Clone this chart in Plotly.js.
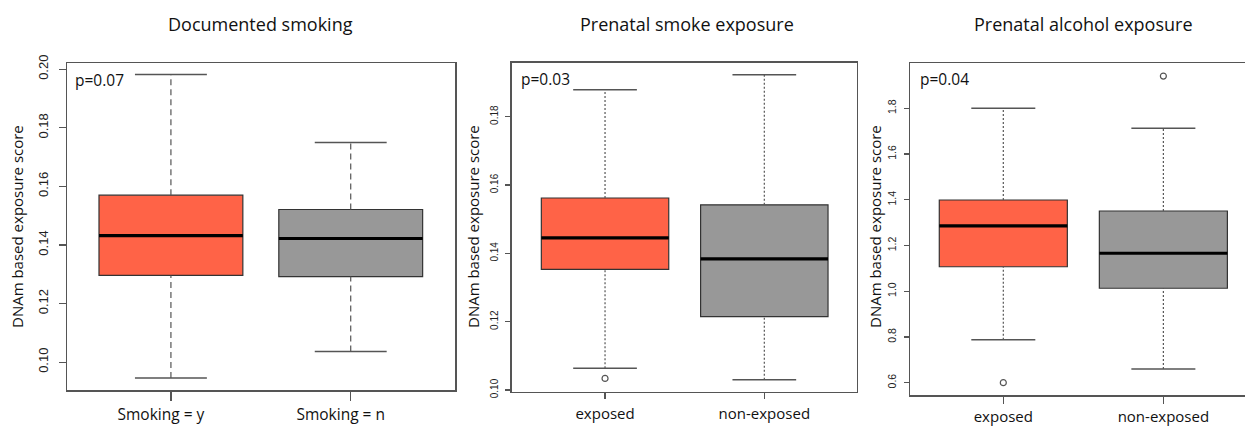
<!DOCTYPE html>
<html>
<head>
<meta charset="utf-8">
<script src="https://cdn.plot.ly/plotly-3.0.1.min.js"></script>
<style>html,body{margin:0;padding:0;background:#fff;}#chart{width:1245px;height:427px;}</style>
</head>
<body>
<div id="chart"></div>
<script>
// ---- data ----
const panelTitles = ["Documented smoking", "Prenatal smoke exposure", "Prenatal alcohol exposure"];
const pValues = ["p=0.07", "p=0.03", "p=0.04"];
const yTitle = "DNAm based exposure score";

const cats1 = ["Smoking = y", "Smoking = n"];
const lower1 = [0.0946, 0.1036];
const q1_1 = [0.1296, 0.1292];
const med1 = [0.1432, 0.1422];
const q3_1 = [0.1570, 0.1521];
const upper1 = [0.1982, 0.1750];
const out1 = [[], []];
const yticks1 = [0.10, 0.12, 0.14, 0.16, 0.18, 0.20];
const yticktext1 = ["0.10", "0.12", "0.14", "0.16", "0.18", "0.20"];

const cats2 = ["exposed", "non-exposed"];
const lower2 = [0.1064, 0.1030];
const q1_2 = [0.1353, 0.1215];
const med2 = [0.1445, 0.1384];
const q3_2 = [0.1562, 0.1542];
const upper2 = [0.1879, 0.1923];
const out2 = [[0.1034], []];
const yticks2 = [0.10, 0.12, 0.14, 0.16, 0.18];
const yticktext2 = ["0.10", "0.12", "0.14", "0.16", "0.18"];

const cats3 = ["exposed", "non-exposed"];
const lower3 = [0.788, 0.660];
const q1_3 = [1.107, 1.013];
const med3 = [1.286, 1.166];
const q3_3 = [1.399, 1.351];
const upper3 = [1.800, 1.7125];
const out3 = [[0.60], [1.941]];
const yticks3 = [0.6, 0.8, 1.0, 1.2, 1.4, 1.6, 1.8];
const yticktext3 = ["0.6", "0.8", "1.0", "1.2", "1.4", "1.6", "1.8"];

const boxColors = ["#FF6347", "#989898"];

// ---- build ----
const W = 1245, H = 427;
const panels = [
  {cats: cats1, lo: lower1, q1: q1_1, med: med1, q3: q3_1, hi: upper1, out: out1, dash: "6px,4px",
   xd: [67/W, 455/W], yd: [1-390/H, 1-63/H], xr: [0.422, 2.58], yr: [0.0905, 0.2021],
   yt: yticks1, ytt: yticktext1, tickfs: 13, yticklen: 7, xticklen: 9, xshift: -10, mirrorY: true,
   xfs: 15.5, xstand: 1, ystand: 5},
  {cats: cats2, lo: lower2, q1: q1_2, med: med2, q3: q3_2, hi: upper2, out: out2, dash: "2px,2px",
   xd: [511.7/W, 856.7/W], yd: [1-391.7/H, 1-62.7/H], xr: [0.414, 2.58], yr: [0.0995, 0.1958],
   yt: yticks2, ytt: yticktext2, tickfs: 10, yticklen: 5, xticklen: 6, xshift: 0, mirrorY: true,
   xfs: 15, xstand: 2, ystand: 3},
  {cats: cats3, lo: lower3, q1: q1_3, med: med3, q3: q3_3, hi: upper3, out: out3, dash: "2px,2px",
   xd: [910/W, 1], yd: [1-395/H, 1-63.3/H], xr: [0.417, 2.51], yr: [0.546, 1.997],
   yt: yticks3, ytt: yticktext3, tickfs: 10.5, yticklen: 5, xticklen: 7, xshift: 0, mirrorY: false,
   xfs: 15, xstand: 0, ystand: 3}
];

const traces = [];
const layout = {
  width: W, height: H, margin: {l: 0, r: 0, t: 0, b: 0},
  paper_bgcolor: "#fff", plot_bgcolor: "#fff", showlegend: false, hovermode: false,
  annotations: []
};

const lineCol = "#555555";
panels.forEach((p, i) => {
  const n = i + 1;
  const xa = n === 1 ? "x" : "x" + n;
  const ya = n === 1 ? "y" : "y" + n;
  for (let g = 0; g < 2; g++) {
    const c = g + 1;
    // box body
    traces.push({
      type: "box", x: [c], q1: [p.q1[g]], median: [p.med[g]], q3: [p.q3[g]],
      lowerfence: [p.q1[g]], upperfence: [p.q3[g]], width: 0.8, whiskerwidth: 0,
      fillcolor: boxColors[g], line: {color: "#333333", width: 1.2},
      boxpoints: false, xaxis: xa, yaxis: ya, hoverinfo: "skip"
    });
    // whiskers (dashed)
    traces.push({
      type: "scatter", mode: "lines", x: [c, c, null, c, c],
      y: [p.lo[g], p.q1[g], null, p.q3[g], p.hi[g]],
      line: {color: lineCol, width: 1.2, dash: p.dash}, xaxis: xa, yaxis: ya, hoverinfo: "skip"
    });
    // staples
    traces.push({
      type: "scatter", mode: "lines", x: [c-0.2, c+0.2, null, c-0.2, c+0.2],
      y: [p.lo[g], p.lo[g], null, p.hi[g], p.hi[g]],
      line: {color: lineCol, width: 1.5}, xaxis: xa, yaxis: ya, hoverinfo: "skip"
    });
    // median
    traces.push({
      type: "scatter", mode: "lines", x: [c-0.4, c+0.4], y: [p.med[g], p.med[g]],
      line: {color: "#000000", width: 3.2}, xaxis: xa, yaxis: ya, hoverinfo: "skip"
    });
    // outliers
    if (p.out[g].length) {
      traces.push({
        type: "scatter", mode: "markers", x: p.out[g].map(() => c), y: p.out[g],
        marker: {symbol: "circle-open", size: 6, color: lineCol, line: {width: 1.2}},
        xaxis: xa, yaxis: ya, hoverinfo: "skip"
      });
    }
  }
  layout["xaxis" + (n === 1 ? "" : n)] = {
    domain: p.xd, range: p.xr, anchor: ya, tickvals: [1, 2], ticktext: p.cats,
    ticks: "outside", ticklen: p.xticklen, tickcolor: lineCol, tickwidth: 1.3,
    showline: true, mirror: true, linecolor: lineCol, linewidth: 1.5,
    showgrid: false, zeroline: false, ticklabelshift: p.xshift, ticklabelstandoff: p.xstand,
    tickfont: {family: "Open Sans", size: p.xfs, color: "#111"}
  };
  layout["yaxis" + (n === 1 ? "" : n)] = {
    domain: p.yd, range: p.yr, anchor: xa, tickvals: p.yt, ticktext: p.ytt, tickangle: -90,
    ticks: "outside", ticklen: p.yticklen, tickcolor: lineCol, tickwidth: 1.3,
    showline: true, mirror: p.mirrorY, linecolor: lineCol, linewidth: 1.5,
    showgrid: false, zeroline: false, ticklabelstandoff: p.ystand,
    tickfont: {family: "Liberation Sans", size: p.tickfs, color: "#222"}
  };
});

const titleX = [260/W, 687/W, 1083/W];
const yTitleX = [17/W, 473/W, 875/W];
const pX = [73/W, 519/W, 918/W];
const pY = [1-80/H, 1-79/H, 1-79/H];
for (let i = 0; i < 3; i++) {
  layout.annotations.push({
    xref: "paper", yref: "paper", x: titleX[i], y: 1-24/H, text: panelTitles[i],
    showarrow: false, xanchor: "center", yanchor: "middle",
    font: {family: "Open Sans", size: 18, color: "#111"}
  });
  layout.annotations.push({
    xref: "paper", yref: "paper", x: yTitleX[i], y: 1-227/H, text: yTitle, textangle: -90,
    showarrow: false, xanchor: "center", yanchor: "middle",
    font: {family: "Open Sans", size: 15, color: "#111"}
  });
  layout.annotations.push({
    xref: "paper", yref: "paper", x: pX[i], y: pY[i], text: pValues[i],
    showarrow: false, xanchor: "left", yanchor: "middle",
    font: {family: "Open Sans", size: 15.5, color: "#111"}
  });
}

Plotly.newPlot("chart", traces, layout, {staticPlot: true, displayModeBar: false});
</script>
</body>
</html>
